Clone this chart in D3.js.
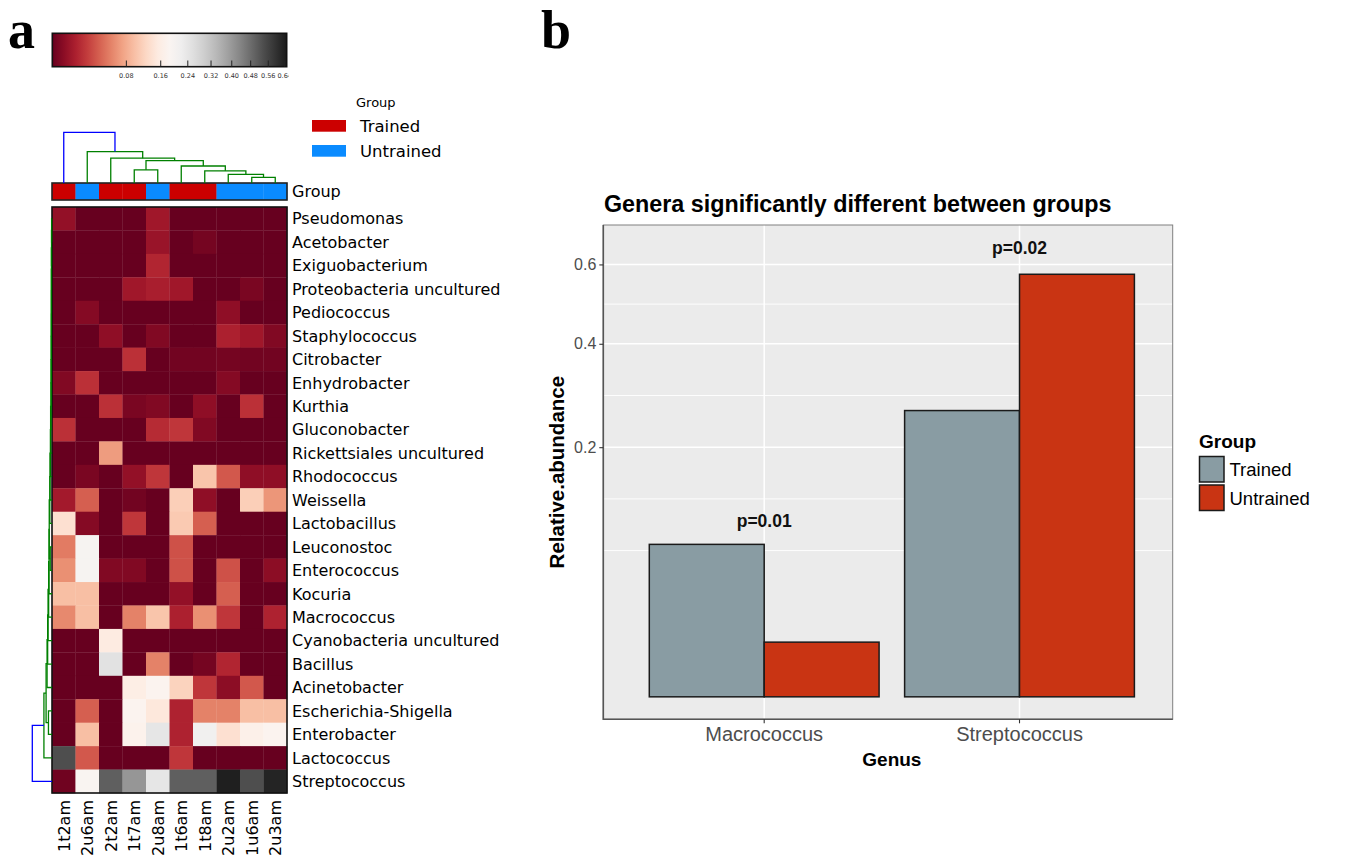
<!DOCTYPE html>
<html>
<head>
<meta charset="utf-8">
<title>Genera heatmap and group comparison</title>
<style>
body { margin: 0; background: #fff; }
svg { display: block; }
.hm text { font-family: "DejaVu Sans", sans-serif; fill: #000; }
.bars text { font-family: "Liberation Sans", Arial, sans-serif; }
.tag { font-family: "Liberation Serif", "Times New Roman", serif; font-weight: bold; font-size: 54px; }
</style>
<script src="https://d3js.org/d3.v7.min.js"></script>
</head>
<body>
<svg id="fig" width="1365" height="857"></svg>
<script>
// ---------- data: heatmap (panel a) ----------
var samples = ["1t2am", "2u6am", "2t2am", "1t7am", "2u8am", "1t6am", "1t8am", "2u2am", "1u6am", "2u3am"];
var sampleGroup = ["Trained", "Untrained", "Trained", "Trained", "Untrained", "Trained", "Trained", "Untrained", "Untrained", "Untrained"];
var genera = ["Pseudomonas", "Acetobacter", "Exiguobacterium", "Proteobacteria uncultured", "Pediococcus",
    "Staphylococcus", "Citrobacter", "Enhydrobacter", "Kurthia", "Gluconobacter", "Rickettsiales uncultured",
    "Rhodococcus", "Weissella", "Lactobacillus", "Leuconostoc", "Enterococcus", "Kocuria", "Macrococcus",
    "Cyanobacteria uncultured", "Bacillus", "Acinetobacter", "Escherichia-Shigella", "Enterobacter",
    "Lactococcus", "Streptococcus"];
// relative abundance, one row per genus, columns in sample order
var abundance = [
    [0.0039, 0, 0, 0, 0.0066, 0, 0, 0, 0, 0],
    [0, 0, 0, 0, 0.0052, 0, 0.0005, 0, 0, 0],
    [0, 0, 0, 0, 0.0118, 0, 0, 0, 0, 0],
    [0, 0, 0, 0.0066, 0.009, 0.0066, 0, 0, 0.0008, 0],
    [0, 0.0019, 0, 0, 0, 0, 0, 0.0033, 0, 0],
    [0, 0, 0.0033, 0, 0.0015, 0, 0, 0.0099, 0.0066, 0.0015],
    [0, 0, 0, 0.0159, 0, 0.0003, 0.0003, 0.0005, 0.0003, 0.0003],
    [0.0015, 0.0159, 0, 0, 0, 0, 0, 0.0019, 0, 0],
    [0, 0, 0.0159, 0.0008, 0.0015, 0, 0.0033, 0, 0.0159, 0],
    [0.0159, 0, 0, 0, 0.0138, 0.0182, 0.0015, 0, 0, 0],
    [0, 0, 0.0685, 0, 0, 0, 0, 0, 0, 0],
    [0, 0.0008, 0, 0.0039, 0.0182, 0, 0.1015, 0.0317, 0.0033, 0.0033],
    [0.0074, 0.0348, 0, 0.0003, 0, 0.112, 0.0033, 0, 0.112, 0.0643],
    [0.134, 0.0019, 0, 0.0182, 0, 0.1066, 0.0348, 0, 0, 0],
    [0.0486, 0.198, 0, 0, 0, 0.0288, 0, 0, 0, 0],
    [0.0602, 0.198, 0.0015, 0.0015, 0, 0.0288, 0, 0.0288, 0, 0.0028],
    [0.096, 0.096, 0, 0, 0, 0.0039, 0, 0.0348, 0, 0],
    [0.0562, 0.096, 0, 0.0523, 0.1015, 0.0099, 0.0602, 0.0182, 0, 0.0108],
    [0, 0, 0.152, 0, 0, 0, 0, 0, 0, 0],
    [0, 0, 0.249, 0, 0.0523, 0, 0.0005, 0.0118, 0, 0],
    [0, 0, 0, 0.158, 0.178, 0.117, 0.0182, 0.0028, 0.0317, 0],
    [0, 0.0348, 0, 0.178, 0.146, 0.0108, 0.0523, 0.0523, 0.096, 0.096],
    [0, 0.096, 0, 0.171, 0.241, 0.0108, 0.212, 0.134, 0.165, 0.178],
    [0.537, 0.0317, 0, 0, 0, 0.0182, 0, 0, 0, 0],
    [0.0002, 0.185, 0.505, 0.404, 0.241, 0.505, 0.505, 0.638, 0.537, 0.627]
];
// hierarchical clustering merges: [child a, child b, height]; ids >= n are earlier merges
var colLinkage = [[8, 9, 0.11], [7, 10, 0.17], [6, 11, 0.24], [5, 12, 0.335], [3, 4, 0.26],
    [14, 13, 0.44], [2, 15, 0.49], [1, 16, 0.62], [0, 17, 1.0]];
var rowLinkage = [[0, 1, 0.02], [25, 2, 0.025], [26, 3, 0.03], [27, 4, 0.03], [28, 5, 0.035],
    [29, 6, 0.035], [30, 7, 0.04], [31, 8, 0.045], [32, 9, 0.05], [33, 10, 0.07], [34, 11, 0.08],
    [35, 12, 0.10], [36, 13, 0.11], [14, 15, 0.09], [37, 38, 0.14], [39, 16, 0.15], [40, 17, 0.17],
    [41, 18, 0.20], [42, 19, 0.22], [43, 20, 0.25], [21, 22, 0.18], [44, 45, 0.30], [46, 23, 0.41],
    [47, 24, 1.0]];
var cbarTicks = [0.08, 0.16, 0.24, 0.32, 0.40, 0.48, 0.56, 0.64];

// ---------- data: bar chart (panel b) ----------
var barGenera = ["Macrococcus", "Streptococcus"];
var groups = ["Trained", "Untrained"];
var trainedMean = [0.0746, 0.263];
var untrainedMean = [0.0096, 0.573];
var pText = ["p=0.01", "p=0.02"];
var pTextY = [0.099, 0.648];
var yBreaks = [0.2, 0.4, 0.6];

var svg = d3.select("#fig");

svg.append("text").attr("class", "tag").attr("x", 8).attr("y", 48).text("a");
svg.append("text").attr("class", "tag").attr("x", 541).attr("y", 48).text("b");

//////////// panel a: clustered heatmap

var hm = svg.append("g").attr("class", "hm");
var groupColor = d3.scaleOrdinal().domain(groups).range(["#cc0000", "#0a8bff"]);
var norm = d3.scalePow().exponent(0.55).domain([0, 0.65]).clamp(true);
var cellColor = function(v){ return d3.interpolateRdGy(norm(v)); };

var xCell = d3.scaleBand().domain(d3.range(samples.length)).range([52, 287]);
var yCell = d3.scaleBand().domain(d3.range(genera.length)).range([207, 793]);

var cells = [];
abundance.forEach(function(row, r){
    row.forEach(function(v, c){ cells.push({r: r, c: c, v: v}); });
});

hm.selectAll("rect.cell").data(cells).enter()
    .append("rect")
    .attr("class", "cell")
    .attr("x", function(d){ return xCell(d.c); })
    .attr("y", function(d){ return yCell(d.r); })
    .attr("width", xCell.bandwidth() + 0.3)
    .attr("height", yCell.bandwidth() + 0.3)
    .attr("fill", function(d){ return cellColor(d.v); });

hm.append("rect")
    .attr("x", 52).attr("y", 207).attr("width", 235).attr("height", 586)
    .attr("fill", "none").attr("stroke", "#111").attr("stroke-width", 1.6);

// group colour strip
hm.selectAll("rect.grp").data(sampleGroup).enter()
    .append("rect")
    .attr("class", "grp")
    .attr("x", function(d, i){ return xCell(i); })
    .attr("y", 183)
    .attr("width", xCell.bandwidth() + 0.3)
    .attr("height", 17)
    .attr("fill", function(d){ return groupColor(d); });
hm.append("rect")
    .attr("x", 52).attr("y", 183).attr("width", 235).attr("height", 17)
    .attr("fill", "none").attr("stroke", "#222").attr("stroke-width", 1.6);
hm.append("text").attr("x", 292).attr("y", 191.5).attr("dy", "0.36em")
    .style("font-size", "16px").text("Group");

// row and column labels
hm.selectAll("text.rowlab").data(genera).enter()
    .append("text")
    .attr("class", "rowlab")
    .attr("x", 292)
    .attr("y", function(d, i){ return yCell(i) + yCell.bandwidth() / 2; })
    .attr("dy", "0.36em")
    .style("font-size", "16px")
    .text(function(d){ return d; });

hm.selectAll("text.collab").data(samples).enter()
    .append("text")
    .attr("class", "collab")
    .attr("transform", function(d, i){
        return "translate(" + (xCell(i) + xCell.bandwidth() / 2) + ",800) rotate(-90)";
    })
    .attr("dy", "0.36em")
    .attr("text-anchor", "end")
    .style("font-size", "16px")
    .text(function(d){ return d; });

// dendrograms
function buildTree(linkage, n){
    var pos = [], h = [], links = [];
    for (var i = 0; i < n; i++){ pos[i] = i; h[i] = 0; }
    linkage.forEach(function(m, i){
        var k = n + i;
        pos[k] = (pos[m[0]] + pos[m[1]]) / 2;
        h[k] = m[2];
        links.push({a: m[0], b: m[1], k: k, root: i === linkage.length - 1});
    });
    return {pos: pos, h: h, links: links};
}

var colTree = buildTree(colLinkage, samples.length);
var colPos = d3.scaleLinear().domain([0, samples.length - 1])
    .range([xCell(0) + xCell.bandwidth() / 2, xCell(samples.length - 1) + xCell.bandwidth() / 2]);
var colH = d3.scaleLinear().domain([0, 1]).range([183, 132.3]);

hm.selectAll("path.cden").data(colTree.links).enter()
    .append("path")
    .attr("class", "cden")
    .attr("fill", "none")
    .attr("stroke-width", 1.3)
    .attr("stroke", function(d){ return d.root ? "#0000ff" : "#008000"; })
    .attr("d", function(d){
        var t = colTree;
        return "M" + colPos(t.pos[d.a]) + "," + colH(t.h[d.a]) +
            "V" + colH(t.h[d.k]) + "H" + colPos(t.pos[d.b]) + "V" + colH(t.h[d.b]);
    });

var rowTree = buildTree(rowLinkage, genera.length);
var rowPos = d3.scaleLinear().domain([0, genera.length - 1])
    .range([yCell(0) + yCell.bandwidth() / 2, yCell(genera.length - 1) + yCell.bandwidth() / 2]);
var rowH = d3.scaleLinear().domain([0, 1]).range([52, 32.3]);

hm.selectAll("path.rden").data(rowTree.links).enter()
    .append("path")
    .attr("class", "rden")
    .attr("fill", "none")
    .attr("stroke-width", 1.3)
    .attr("stroke", function(d){ return d.root ? "#0000ff" : "#008000"; })
    .attr("d", function(d){
        var t = rowTree;
        return "M" + rowH(t.h[d.a]) + "," + rowPos(t.pos[d.a]) +
            "H" + rowH(t.h[d.k]) + "V" + rowPos(t.pos[d.b]) + "H" + rowH(t.h[d.b]);
    });

// colour bar
var defs = svg.append("defs");
var grad = defs.append("linearGradient").attr("id", "rdgy");
d3.range(0, 1.0001, 0.05).forEach(function(t){
    grad.append("stop").attr("offset", t).attr("stop-color", d3.interpolateRdGy(t));
});
defs.append("clipPath").attr("id", "cbclip")
    .append("rect").attr("x", 0).attr("y", 0).attr("width", 288.5).attr("height", 90);

var cbX = d3.scalePow().exponent(0.55).domain([0, 0.65]).range([52.3, 286.7]);
hm.append("rect")
    .attr("x", 52.3).attr("y", 33.3).attr("width", 234.4).attr("height", 33.4)
    .attr("fill", "url(#rdgy)").attr("stroke", "#111").attr("stroke-width", 1.6);
hm.selectAll("line.cbt").data(cbarTicks).enter()
    .append("line")
    .attr("class", "cbt")
    .attr("x1", function(d){ return cbX(d); }).attr("x2", function(d){ return cbX(d); })
    .attr("y1", 60.5).attr("y2", 66.7)
    .attr("stroke", "#222").attr("stroke-width", 1);
hm.append("g").attr("clip-path", "url(#cbclip)")
    .selectAll("text").data(cbarTicks).enter()
    .append("text")
    .attr("x", function(d){ return cbX(d); })
    .attr("y", 77.5)
    .attr("text-anchor", "middle")
    .style("font-size", "6.5px")
    .style("fill", "#333")
    .text(function(d){ return d.toFixed(2); });

// group legend
hm.append("text").attr("x", 356).attr("y", 107).style("font-size", "13px").text("Group");
var hmLeg = hm.selectAll("g.hleg").data(groups).enter()
    .append("g")
    .attr("class", "hleg")
    .attr("transform", function(d, i){ return "translate(312," + (120 + i * 25) + ")"; });
hmLeg.append("rect").attr("width", 34).attr("height", 11.7)
    .attr("fill", function(d){ return groupColor(d); });
hmLeg.append("text").attr("x", 48).attr("y", 6).attr("dy", "0.36em")
    .style("font-size", "16.5px").text(function(d){ return d; });

//////////// panel b: bar chart

var bars = svg.append("g").attr("class", "bars");
var panel = {left: 603.3, right: 1172.7, top: 225, bottom: 719.3};
var barFill = d3.scaleOrdinal().domain(groups).range(["#899ca3", "#c93413"]);

// sqrt scale expanded 5% in transformed space, like ggplot
var sTop = Math.sqrt(d3.max(pTextY));
var sLo = -0.05 * sTop, sHi = sTop * 1.05;
var y = d3.scalePow().exponent(0.5)
    .domain([-(sLo * sLo), sHi * sHi])
    .range([panel.bottom, panel.top]);

var x = d3.scaleBand().domain(barGenera).range([611, panel.right]).paddingInner(0).paddingOuter(0.1);
var xg = d3.scaleBand().domain(groups).range([0, x.bandwidth() * 0.9]);

bars.append("rect")
    .attr("x", panel.left).attr("y", panel.top)
    .attr("width", panel.right - panel.left).attr("height", panel.bottom - panel.top)
    .attr("fill", "#ebebeb");

// minor breaks: midpoints in sqrt space, extended one step below
var sb = yBreaks.map(Math.sqrt);
var step = sb[1] - sb[0];
var ext = [sb[0] - step].concat(sb, [sb[sb.length - 1] + step]);
var minor = [];
for (var i = 0; i < ext.length - 1; i++){
    minor.push(ext[i], (ext[i] + ext[i + 1]) / 2);
}
minor = minor.filter(function(s){ return s > sLo && s < sHi && sb.indexOf(s) < 0; })
    .map(function(s){ return s * s; });

bars.selectAll("line.ymin").data(minor).enter()
    .append("line")
    .attr("x1", panel.left).attr("x2", panel.right)
    .attr("y1", function(d){ return y(d); }).attr("y2", function(d){ return y(d); })
    .attr("stroke", "#fff").attr("stroke-width", 0.9);
bars.selectAll("line.ymaj").data(yBreaks).enter()
    .append("line")
    .attr("x1", panel.left).attr("x2", panel.right)
    .attr("y1", function(d){ return y(d); }).attr("y2", function(d){ return y(d); })
    .attr("stroke", "#fff").attr("stroke-width", 1.5);
bars.selectAll("line.xmaj").data(barGenera).enter()
    .append("line")
    .attr("x1", function(d){ return x(d) + x.bandwidth() / 2; })
    .attr("x2", function(d){ return x(d) + x.bandwidth() / 2; })
    .attr("y1", panel.top).attr("y2", panel.bottom)
    .attr("stroke", "#fff").attr("stroke-width", 1.5);

var barData = [];
barGenera.forEach(function(g, i){
    barData.push({genus: g, group: "Trained", v: trainedMean[i]});
    barData.push({genus: g, group: "Untrained", v: untrainedMean[i]});
});

bars.selectAll("rect.bar").data(barData).enter()
    .append("rect")
    .attr("class", "bar")
    .attr("x", function(d){ return x(d.genus) + x.bandwidth() * 0.05 + xg(d.group); })
    .attr("y", function(d){ return y(d.v); })
    .attr("width", xg.bandwidth())
    .attr("height", function(d){ return y(0) - y(d.v); })
    .attr("fill", function(d){ return barFill(d.group); })
    .attr("stroke", "#1a1a1a")
    .attr("stroke-width", 1.5);

bars.selectAll("text.pval").data(pText).enter()
    .append("text")
    .attr("class", "pval")
    .attr("x", function(d, i){ return x(barGenera[i]) + x.bandwidth() / 2; })
    .attr("y", function(d, i){ return y(pTextY[i]); })
    .attr("dy", "0.36em")
    .attr("text-anchor", "middle")
    .style("font-size", "17.5px")
    .style("font-weight", "bold")
    .style("fill", "#111")
    .text(function(d){ return d; });

// panel border and axes
bars.append("rect")
    .attr("x", panel.left).attr("y", panel.top)
    .attr("width", panel.right - panel.left).attr("height", panel.bottom - panel.top)
    .attr("fill", "none").attr("stroke", "#808080").attr("stroke-width", 1);
bars.append("path")
    .attr("d", "M" + panel.left + "," + panel.top + "V" + panel.bottom + "H" + panel.right)
    .attr("fill", "none").attr("stroke", "#555").attr("stroke-width", 1.6);

var yAxis = bars.append("g")
    .attr("transform", "translate(" + panel.left + ",0)")
    .call(d3.axisLeft(y).tickValues(yBreaks).tickSize(4).tickPadding(3).tickFormat(d3.format(".1f")));
yAxis.select(".domain").remove();
yAxis.selectAll("line").attr("stroke", "#333").attr("stroke-width", 1.1);
yAxis.selectAll("text").style("font-size", "16px").style("fill", "#4d4d4d")
    .style("font-family", "'Liberation Sans', Arial, sans-serif");

var xAxis = bars.append("g")
    .attr("transform", "translate(0," + panel.bottom + ")")
    .call(d3.axisBottom(x).tickSize(4).tickPadding(4));
xAxis.select(".domain").remove();
xAxis.selectAll("line").attr("stroke", "#333").attr("stroke-width", 1.1);
xAxis.selectAll("text").style("font-size", "20px").style("fill", "#4d4d4d")
    .style("font-family", "'Liberation Sans', Arial, sans-serif");

bars.append("text")
    .attr("transform", "translate(564," + ((panel.top + panel.bottom) / 2) + ") rotate(-90)")
    .attr("text-anchor", "middle")
    .style("font-size", "20.5px").style("font-weight", "bold")
    .text("Relative.abundance");
bars.append("text")
    .attr("x", (611 + panel.right) / 2).attr("y", 766)
    .attr("text-anchor", "middle")
    .style("font-size", "19px").style("font-weight", "bold")
    .text("Genus");
bars.append("text")
    .attr("x", 604).attr("y", 212)
    .style("font-size", "23.3px").style("font-weight", "bold")
    .text("Genera significantly different between groups");

// legend
bars.append("text").attr("x", 1199).attr("y", 448)
    .style("font-size", "19px").style("font-weight", "bold").text("Group");
var leg = bars.selectAll("g.bleg").data(groups).enter()
    .append("g")
    .attr("class", "bleg")
    .attr("transform", function(d, i){ return "translate(1199.5," + (456.5 + i * 28.5) + ")"; });
leg.append("rect").attr("width", 24.5).attr("height", 25.5)
    .attr("fill", function(d){ return barFill(d); })
    .attr("stroke", "#1a1a1a").attr("stroke-width", 1.5);
leg.append("text").attr("x", 30).attr("y", 13).attr("dy", "0.36em")
    .style("font-size", "18.5px").text(function(d){ return d; });
</script>
</body>
</html>
